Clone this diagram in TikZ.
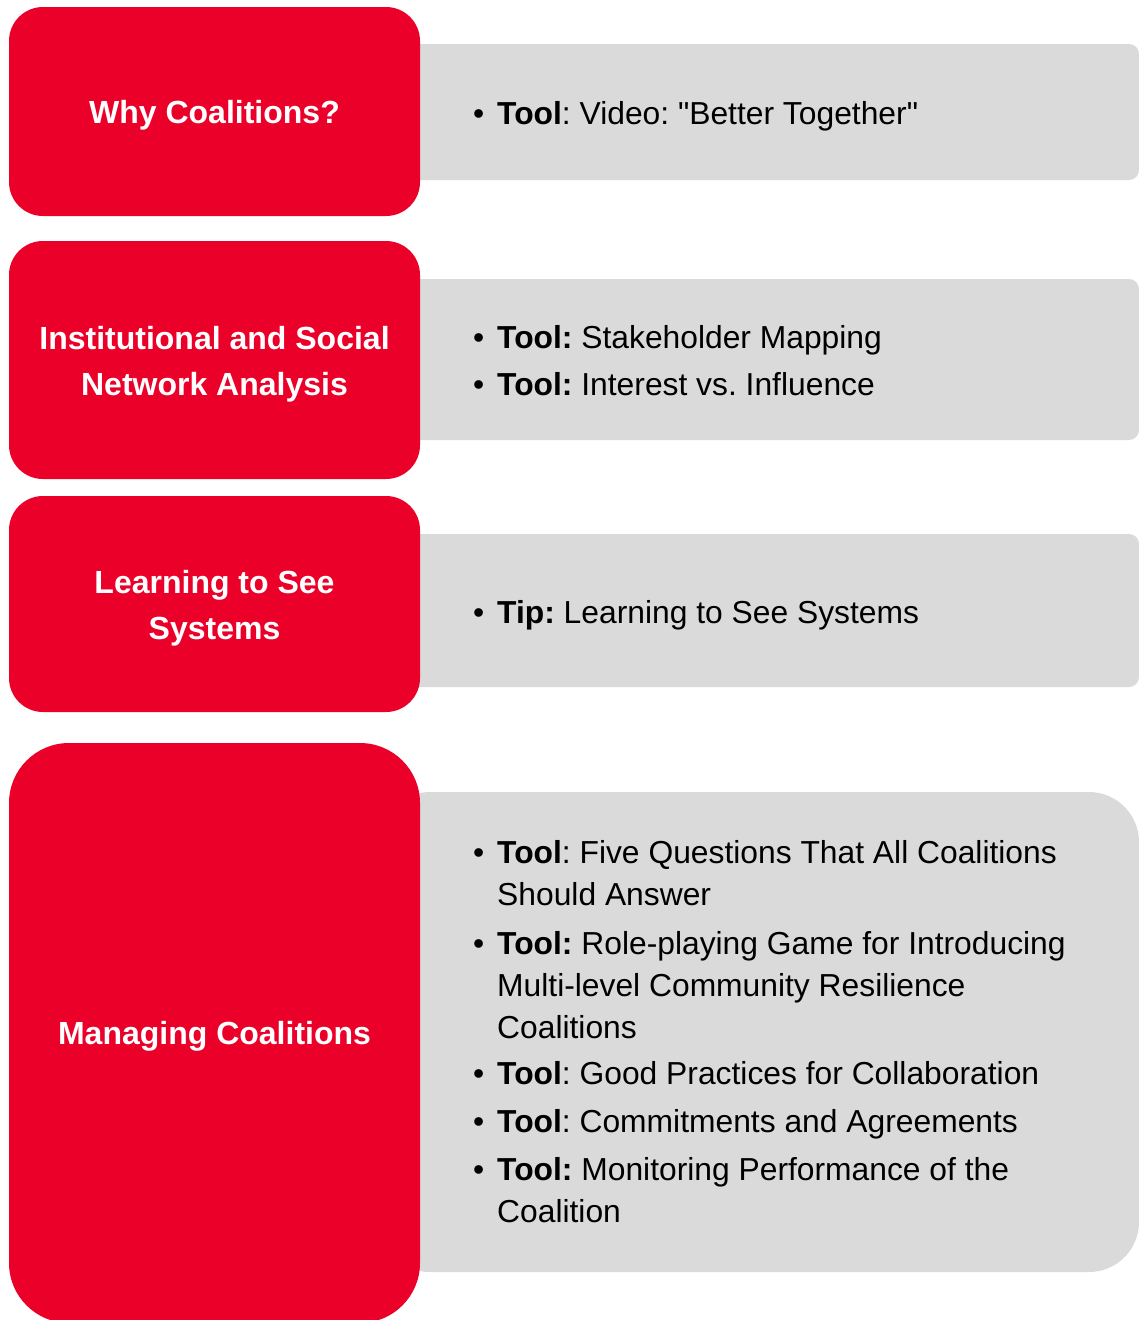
\documentclass[tikz,border=0pt]{standalone}
\usepackage{fontspec}
\setmainfont{Liberation Sans}[Ligatures=TeXOff]
\frenchspacing
\definecolor{brandred}{RGB}{235,0,41}
\definecolor{panelgray}{RGB}{218,218,218}
\newcommand{\bul}{\makebox[24pt][l]{•}}
\newcommand{\ind}{\hspace*{24pt}}
\begin{document}
\begin{tikzpicture}[x=1pt, y=-1pt,
    redbox/.style={fill=brandred, text=white, minimum width=411pt, align=center,
        font=\fontsize{32}{46}\selectfont\bfseries, inner sep=0pt, text depth=0pt},
    graybox/.style={fill=panelgray, minimum width=759pt, inner sep=0pt},
    itemtext/.style={anchor=west, align=left, inner sep=0pt,
        font=\fontsize{31.8}{42}\selectfont}]
        \clip (0,0) rectangle (1139,1320);

        % Szare panele (drawn first, their left end hides under the red boxes)
        \node[graybox, rounded corners=10pt, minimum height=136pt] (panelA) at (759.5,112) {};
        \node[graybox, rounded corners=10pt, minimum height=161pt] (panelB) at (759.5,359.5) {};
        \node[graybox, rounded corners=10pt, minimum height=153pt] (panelC) at (759.5,610.5) {};
        \node[graybox, rounded corners=50pt, minimum height=480pt] (panelD) at (759.5,1032) {};

        % Czerwone bloki tematów
        \node[redbox, rounded corners=34pt, minimum height=209pt, text height=24pt] (whyc) at (214.5,111.5) {Why Coalitions?};
        \node[redbox, rounded corners=34pt, minimum height=238pt, text height=71pt] (isna) at (214.5,360) {Institutional and Social\\Network Analysis};
        \node[redbox, rounded corners=34pt, minimum height=216pt, text height=71pt] (learn) at (214.5,604) {Learning to See\\Systems};
        \node[redbox, rounded corners=60pt, minimum height=580pt, text height=23pt] (manage) at (214.5,1033) {Managing Coalitions};

        % Listy narzędzi
        \node[itemtext] (toolsA) at (473,116) {\bul\textbf{Tool}: Video: "Better Together"};
        \node[itemtext] (toolsB) at (473,360.5) {\bul\textbf{Tool:} Stakeholder Mapping\\[5pt]
            \bul\textbf{Tool:} Interest vs. Influence};
        \node[itemtext] (toolsC) at (473,615) {\bul\textbf{Tip:} Learning to See Systems};
        \node[itemtext] (toolsD) at (473,1032) {\bul\textbf{Tool}: Five Questions That All Coalitions\\
            \ind Should Answer\\[7pt]
            \bul\textbf{Tool:} Role-playing Game for Introducing\\
            \ind Multi-level Community Resilience\\
            \ind Coalitions\\[4pt]
            \bul\textbf{Tool}: Good Practices for Collaboration\\[6pt]
            \bul\textbf{Tool}: Commitments and Agreements\\[6pt]
            \bul\textbf{Tool:} Monitoring Performance of the\\
            \ind Coalition};
    \end{tikzpicture}
\end{document}
